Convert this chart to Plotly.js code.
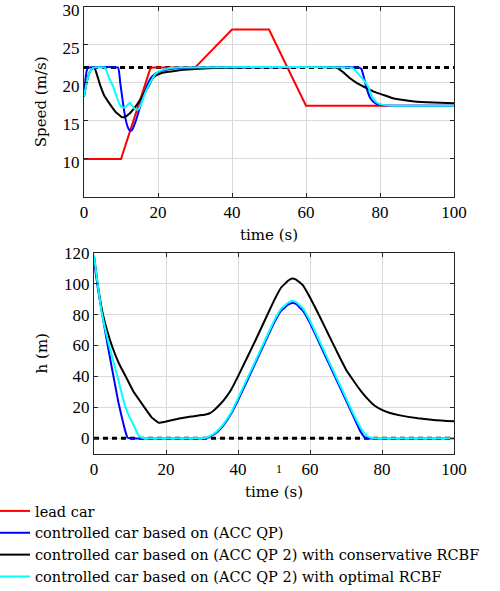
<!DOCTYPE html>
<html>
<head>
<meta charset="utf-8">
<script src="https://cdn.plot.ly/plotly-3.0.1.min.js"></script>
<style>html,body{margin:0;padding:0;background:#fff;overflow:hidden}#chart{width:500px;height:591px}</style>
</head>
<body>
<div id="chart"></div>
<script>
// ---------- Speed plot (m/s) ----------
const leadT = [0, 10, 18, 30, 40, 50, 60, 100];
const leadV = [10, 10, 22, 22, 27, 27, 17, 17];

const qpT = [0, 0.4, 0.8, 1.2, 9.2, 9.8, 10.5, 11.2, 12, 12.5, 13, 14, 15, 16, 17, 18, 19, 20, 22, 25, 30, 74.3, 75, 75.5, 76, 76.5, 77, 77.5, 78.2, 79, 80, 82, 100];
const qpV = [18.2, 20.5, 21.7, 22, 22, 20, 17.5, 15.3, 14, 13.7, 13.8, 15, 16.6, 18.2, 19.6, 20.6, 21.1, 21.4, 21.7, 21.9, 22, 22, 21.8, 21, 20, 19.1, 18.4, 17.9, 17.5, 17.25, 17.1, 17.02, 17];

const consT = [0, 0.8, 1.6, 2.5, 3, 4.3, 5.5, 7, 8.5, 10.2, 11, 12.4, 13.8, 15.1, 16.2, 17.4, 18.5, 19.6, 21, 25, 30, 35, 40, 68.3, 70, 71.9, 74, 76.4, 78.5, 80.9, 83, 85.4, 89.9, 94.4, 100];
const consV = [18.2, 20.2, 21.5, 22, 21.8, 19.8, 18.3, 17.2, 16.2, 15.5, 15.5, 16, 16.8, 17.7, 18.6, 19.5, 20.6, 21, 21.3, 21.6, 21.8, 21.95, 22, 22, 21.4, 20.6, 19.9, 19.3, 18.8, 18.4, 18.05, 17.8, 17.5, 17.4, 17.3];

const optT = [0, 0.8, 1.6, 2.5, 5.7, 6.5, 7.2, 7.9, 8.8, 9.7, 10.3, 11.1, 11.8, 12.4, 13, 13.8, 14.7, 15.5, 16.5, 17.5, 18.3, 19.2, 20.2, 22, 25, 72.3, 73.2, 74.1, 75, 76, 76.8, 77.3, 77.8, 78.5, 79.5, 81, 83, 100];
const optV = [18.2, 20.2, 21.5, 22, 22, 21, 20.2, 19.5, 18.2, 17.1, 16.8, 16.8, 17.1, 17.4, 17, 16.5, 16.5, 17.3, 18.6, 19.7, 20.4, 21.1, 21.5, 21.8, 22, 22, 21.7, 21.2, 20.7, 20.1, 19.5, 18.9, 18.2, 17.7, 17.3, 17.1, 17, 17];

const desiredT = [0, 100];
const desiredV = [22, 22];

// ---------- h plot (m) ----------
const hQpT = [0, 1, 2, 3.5, 5, 6.8, 8.3, 9.3, 10, 31, 32, 34, 36, 38, 40, 45, 50, 52, 54, 55, 56, 58, 60, 65, 70, 72, 74, 75, 75.6, 100];
const hQp  = [115, 98, 84, 64, 45, 23, 8, 0.5, 0, 0, 0.8, 3.5, 8.5, 15.5, 24.5, 49.5, 74.5, 82.5, 86.5, 87.5, 87, 82.5, 74.5, 49.5, 24.5, 14.5, 4.5, 1, 0, 0];

const hConsT = [0, 1, 2.3, 3.6, 5.1, 7, 8.8, 11, 14, 16, 18, 20, 23.7, 27, 31, 32, 33, 34, 36, 38, 40, 45, 50, 52, 54, 55, 56, 58, 60, 62, 64, 66, 68, 70, 72, 74, 76, 78, 80, 82, 85, 90, 95, 100];
const hCons  = [118, 100, 82, 70, 59, 48, 40, 30, 20, 13.5, 10, 10.8, 12.7, 14, 15.3, 16, 17.5, 19.5, 24.5, 31, 40, 64, 89, 97.5, 102, 103.3, 102.8, 99, 91, 82, 72.5, 63, 53.5, 44.5, 37.5, 31, 25.5, 21, 18.3, 16.5, 14.8, 12.9, 11.7, 11];

const hOptT = [0, 1, 2.1, 4.2, 6.5, 8.6, 10, 11.2, 12.2, 13, 14, 31, 32, 34, 36, 38, 40, 45, 50, 52, 54, 55, 56, 58, 60, 65, 70, 72, 74, 75, 76, 77, 78, 100];
const hOpt  = [118, 100, 82, 60, 40, 21, 13, 7.5, 2.5, 0.5, 0, 0.3, 1.2, 4.2, 9.3, 16.3, 25.8, 50.8, 75.8, 83.8, 87.8, 88.8, 88.3, 84, 76, 51, 26, 16, 7, 3.5, 1.2, 0.3, 0, 0];

const zeroT = [0, 100];
const zeroH = [0, 0];

const xTicks = [0, 20, 40, 60, 80, 100];
const speedTicks = [10, 15, 20, 25, 30];
const hTicks = [0, 20, 40, 60, 80, 100, 120];

const names = ['lead car', 'controlled car based on (ACC QP)',
  'controlled car based on (ACC QP 2) with conservative RCBF',
  'controlled car based on (ACC QP 2) with optimal RCBF'];
const colors = ['#ff0000', '#0000ff', '#000000', '#00ffff'];

const LW = 2;
const SM = {shape: 'spline', smoothing: 0.3};
const traces = [
  {x: desiredT, y: desiredV, xaxis: 'x', yaxis: 'y', mode: 'lines', showlegend: false, hoverinfo: 'skip',
   line: {color: '#000', width: 3, dash: '5px,4px'}},
  {x: leadT, y: leadV, xaxis: 'x', yaxis: 'y', mode: 'lines', name: names[0], line: {color: colors[0], width: LW}},
  {x: qpT, y: qpV, xaxis: 'x', yaxis: 'y', mode: 'lines', name: names[1], line: Object.assign({color: colors[1], width: LW}, SM)},
  {x: consT, y: consV, xaxis: 'x', yaxis: 'y', mode: 'lines', name: names[2], line: Object.assign({color: colors[2], width: LW}, SM)},
  {x: optT, y: optV, xaxis: 'x', yaxis: 'y', mode: 'lines', name: names[3], line: Object.assign({color: colors[3], width: LW}, SM)},

  {x: zeroT, y: zeroH, xaxis: 'x2', yaxis: 'y2', mode: 'lines', showlegend: false, hoverinfo: 'skip',
   line: {color: '#000', width: 3, dash: '5px,4px'}},
  {x: hQpT, y: hQp, xaxis: 'x2', yaxis: 'y2', mode: 'lines', showlegend: false, line: Object.assign({color: colors[1], width: LW}, SM)},
  {x: hConsT, y: hCons, xaxis: 'x2', yaxis: 'y2', mode: 'lines', showlegend: false, line: Object.assign({color: colors[2], width: LW}, SM)},
  {x: hOptT, y: hOpt, xaxis: 'x2', yaxis: 'y2', mode: 'lines', showlegend: false, line: Object.assign({color: colors[3], width: LW}, SM)}
];

const TICKFONT = "'Liberation Serif', serif";
const TEXTFONT = "'DejaVu Serif', serif";
const axBase = {
  showline: true, mirror: 'ticks', linecolor: '#262626', linewidth: 1,
  ticks: 'inside', ticklen: 4, tickcolor: '#262626',
  showgrid: true, gridcolor: '#d9d9d9', gridwidth: 1,
  zeroline: false, automargin: false, ticklabeloverflow: 'allow',
  tickfont: {family: TICKFONT, size: 17, color: '#000'}
};
const titleFont = {family: TEXTFONT, size: 15, color: '#000'};

const layout = {
  width: 500, height: 591,
  margin: {l: 0, r: 0, t: 0, b: 0, autoexpand: false},
  paper_bgcolor: '#fff', plot_bgcolor: '#fff',
  font: {family: TEXTFONT, size: 15, color: '#000'},
  showlegend: true,
  legend: {x: -0.01, xanchor: 'left', y: 1 - 495 / 591, yanchor: 'top',
    bgcolor: 'rgba(0,0,0,0)', borderwidth: 0,
    font: {family: TEXTFONT, size: 14.5, color: '#000'}},
  xaxis: Object.assign({}, axBase, {domain: [0.168, 0.908], anchor: 'y', range: [0, 100], tickvals: xTicks,
    title: {text: 'time (s)', font: titleFont, standoff: 8}}),
  yaxis: Object.assign({}, axBase, {domain: [1 - 197 / 591, 1 - 6.7 / 591], anchor: 'x', range: [5, 30], tickvals: speedTicks,
    ticklabelshift: 3,
    title: {text: 'Speed (m/s)', font: titleFont, standoff: 12}}),
  xaxis2: Object.assign({}, axBase, {domain: [0.188, 0.908], anchor: 'y2', range: [0, 100], tickvals: xTicks,
    title: {text: 'time (s)', font: titleFont, standoff: 8}}),
  yaxis2: Object.assign({}, axBase, {domain: [1 - 453.7 / 591, 1 - 252.7 / 591], anchor: 'x2', range: [-10, 120], tickvals: hTicks,
    title: {text: 'h (m)', font: titleFont, standoff: 12}}),
  annotations: [
    {text: '1', xref: 'paper', yref: 'paper', x: 279 / 500, y: 1 - 478 / 591, showarrow: false,
     font: {family: TICKFONT, size: 12, color: '#000'}}
  ]
};

Plotly.newPlot('chart', traces, layout, {displayModeBar: false, staticPlot: true});
</script>
</body>
</html>
